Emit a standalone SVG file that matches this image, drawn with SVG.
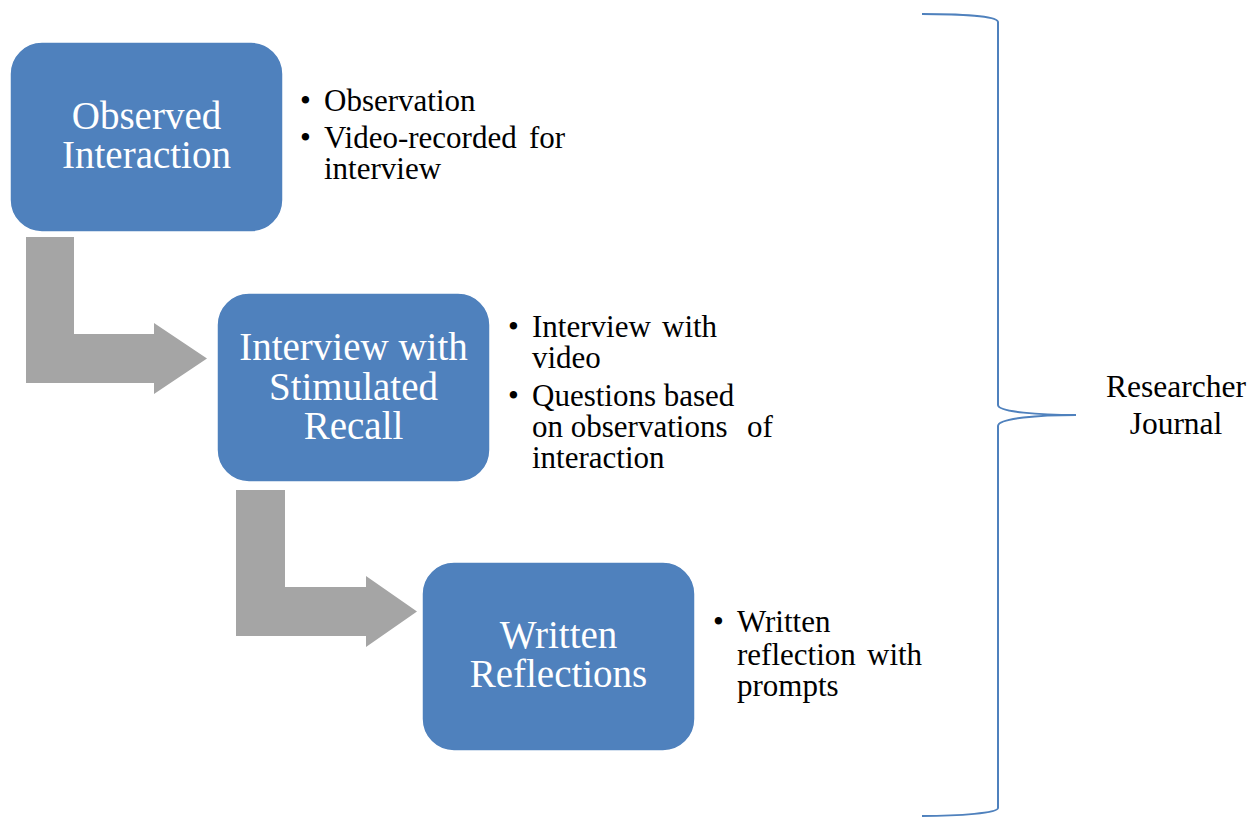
<svg xmlns="http://www.w3.org/2000/svg" width="1250" height="817" viewBox="0 0 1250 817">
  <style>
    .box { fill: #4F81BD; stroke: #ffffff; stroke-width: 1.5; }
    .box-label { font-family: 'Liberation Serif', 'Times New Roman', serif; font-size: 39px; fill: #ffffff; text-anchor: middle; }
    .note { font-family: 'Liberation Serif', 'Times New Roman', serif; font-size: 31px; fill: #000000; }
    .flow { fill: #A5A5A5; }
    .brace { fill: none; stroke: #4F81BD; stroke-width: 2; }
    .side-label { font-family: 'Liberation Serif', 'Times New Roman', serif; font-size: 31.5px; fill: #000000; text-anchor: middle; }
  </style>

  <!-- bent arrows between the stages -->
  <g id="connectors">
    <path class="flow" d="M26,237 L74,237 L74,334 L154,334 L154,323 L207,358.5 L154,394 L154,383 L26,383 Z"/>
    <path class="flow" d="M236,490 L285,490 L285,587 L366,587 L366,576 L417,611.5 L366,647 L366,636 L236,636 Z"/>
  </g>

  <g id="observed-interaction">
    <rect class="box" x="10" y="42" width="273" height="190" rx="32" ry="32"/>
    <text class="box-label" x="146.5" y="129">Observed</text>
    <text class="box-label" x="146.5" y="168">Interaction</text>
  </g>
  <g id="observed-notes">
    <text class="note" x="300" y="111">•</text>
    <text class="note" x="324" y="111">Observation</text>
    <text class="note" x="300" y="148">•</text>
    <text class="note" x="324" y="148">Video-recorded<tspan x="529">for</tspan></text>
    <text class="note" x="324" y="179">interview</text>
  </g>

  <g id="interview-recall">
    <rect class="box" x="217" y="293" width="273" height="189" rx="32" ry="32"/>
    <text class="box-label" x="353.5" y="360">Interview with</text>
    <text class="box-label" x="353.5" y="400">Stimulated</text>
    <text class="box-label" x="353.5" y="439">Recall</text>
  </g>
  <g id="interview-notes">
    <text class="note" x="508" y="337">•</text>
    <text class="note" x="532" y="337">Interview<tspan x="662">with</tspan></text>
    <text class="note" x="532" y="368">video</text>
    <text class="note" x="508" y="406">•</text>
    <text class="note" x="532" y="406">Questions based</text>
    <text class="note" x="532" y="437">on observations<tspan x="747">of</tspan></text>
    <text class="note" x="532" y="468">interaction</text>
  </g>

  <g id="written-reflections">
    <rect class="box" x="422" y="562" width="273" height="189" rx="32" ry="32"/>
    <text class="box-label" x="558.5" y="648">Written</text>
    <text class="box-label" x="558.5" y="687">Reflections</text>
  </g>
  <g id="written-notes">
    <text class="note" x="713" y="632">•</text>
    <text class="note" x="737" y="632">Written</text>
    <text class="note" x="737" y="665">reflection<tspan x="867">with</tspan></text>
    <text class="note" x="737" y="696">prompts</text>
  </g>

  <!-- curly brace spanning all stages -->
  <g id="researcher-journal">
    <path class="brace" d="M922,14 C960,14 998,16 998,22 L998,405 C998,412 1040,415 1076,415 C1040,415 998,418 998,426 L998,808 C998,813 960,816 922,816"/>
    <text class="side-label" x="1176" y="397">Researcher</text>
    <text class="side-label" x="1176" y="434">Journal</text>
  </g>
</svg>
